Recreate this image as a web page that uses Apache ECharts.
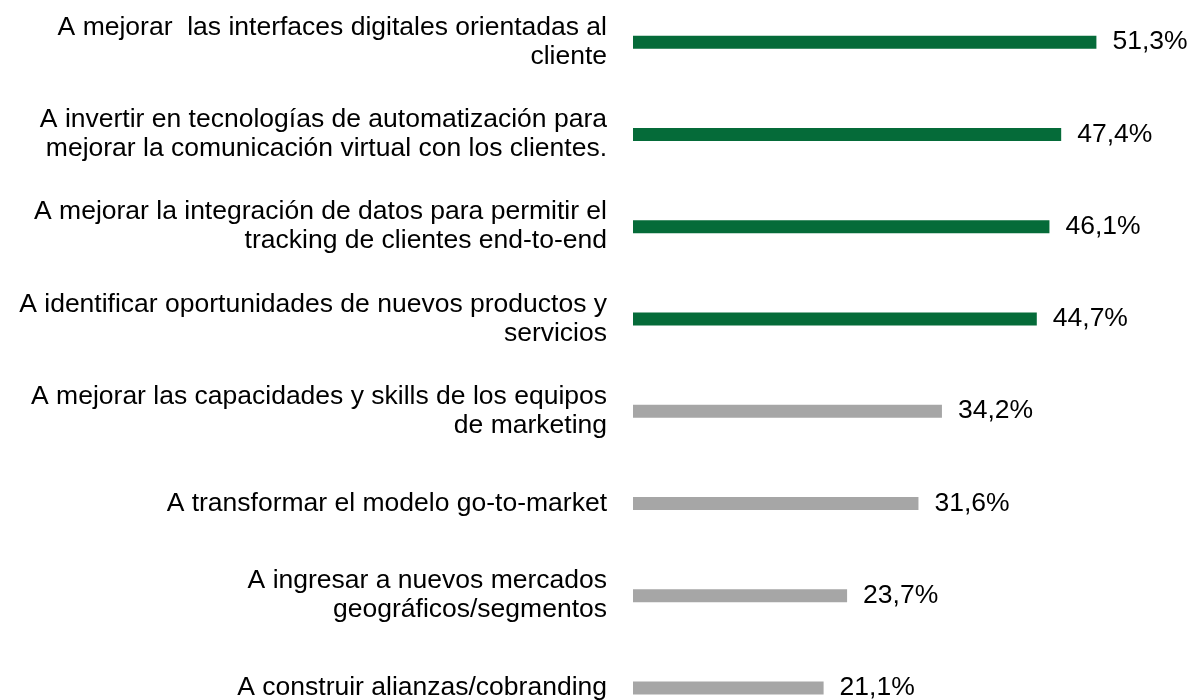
<!DOCTYPE html>
<html>
<head>
<meta charset="utf-8">
<script src="https://cdn.jsdelivr.net/npm/echarts@6/dist/echarts.min.js"></script>
<style>
  html, body { margin: 0; padding: 0; background: #fff; overflow: hidden; }
  /* taller than the window so the 8 rows get the reference spacing */
  #chart { width: 1192px; height: 738px; margin-top: -4px; }
</style>
</head>
<body>
<div id="chart"></div>
<script>
// categories, top to bottom
var categories = [
  'A mejorar  las interfaces digitales orientadas al\ncliente',
  'A invertir en tecnologías de automatización para\nmejorar la comunicación virtual con los clientes.',
  'A mejorar la integración de datos para permitir el\ntracking de clientes end-to-end',
  'A identificar oportunidades de nuevos productos y\nservicios',
  'A mejorar las capacidades y skills de los equipos\nde marketing',
  'A transformar el modelo go-to-market',
  'A ingresar a nuevos mercados\ngeográficos/segmentos',
  'A construir alianzas/cobranding'
]
var values = [51.3, 47.4, 46.1, 44.7, 34.2, 31.6, 23.7, 21.1]
var topCount = 4 // first ones are drawn green

var chart = echarts.init(document.getElementById('chart'))
chart.setOption({
  animation: false,
  grid: {
    left: 633,
    right: 17,
    top: 0,
    bottom: 0
  },
  xAxis: {
    type: 'value',
    min: 0,
    max: 60,
    show: false
  },
  yAxis: {
    type: 'category',
    inverse: true,
    data: categories,
    axisLine: { show: false },
    axisTick: { show: false },
    axisLabel: {
      margin: 26,
      fontFamily: 'Liberation Sans, Arial, sans-serif',
      fontSize: 26.5,
      lineHeight: 29,
      color: '#000',
      align: 'right'
    }
  },
  series: [
    {
      type: 'bar',
      barWidth: 13,
      data: values.map(function(v, i) {
        return {
          value: v,
          itemStyle: { color: i < topCount ? '#056b39' : '#a6a6a6' }
        }
      }),
      label: {
        show: true,
        position: 'right',
        distance: 16,
        fontFamily: 'Liberation Sans, Arial, sans-serif',
        fontSize: 26.5,
        color: '#000',
        formatter: function(p) {
          return p.value.toFixed(1).replace('.', ',') + '%'
        }
      }
    }
  ]
})
</script>
</body>
</html>
